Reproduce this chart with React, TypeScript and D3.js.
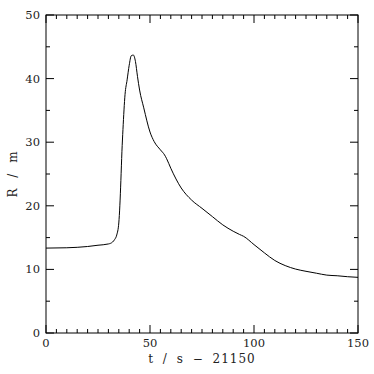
import React from "react";
import * as d3 from "d3";

const timeValues = [0, 10, 20, 25, 30, 32, 33, 34, 35, 35.5, 36, 36.5, 37, 38, 39, 40, 41, 42, 43, 44, 45, 47, 50, 52, 55, 57, 58, 60, 65, 70, 75, 80, 85, 90, 93, 95, 100, 105, 110, 115, 120, 125, 130, 135, 140, 145, 150];
const radiusValues = [13.35, 13.4, 13.6, 13.8, 14.0, 14.3, 14.7, 15.4, 17.3, 20, 24, 28.5, 32, 37.5, 39.8, 42.1, 43.6, 43.7, 42.7, 40.3, 38.2, 35.4, 31.6, 30.1, 28.8, 28.0, 27.4, 25.9, 22.8, 20.9, 19.6, 18.3, 17.0, 16.0, 15.5, 15.2, 13.9, 12.6, 11.4, 10.6, 10.05, 9.7, 9.4, 9.1, 9.0, 8.85, 8.75];
const xMajorTicks = [0, 50, 100, 150];
const yMajorTicks = [0, 10, 20, 30, 40, 50];
const xLabel = "t / s − 21150";
const yLabel = "R / m";

export default function App() {
  const W = 374, H = 374;
  const left = 46, right = 358, top = 15, bottom = 333;
  const x = d3.scaleLinear().domain([0, 150]).range([left, right]);
  const y = d3.scaleLinear().domain([0, 50]).range([bottom, top]);
  const line = d3.line<number>().x((_, i) => x(timeValues[i])).y((d) => y(d)).curve(d3.curveMonotoneX);
  const xMinor = d3.range(0, 151, 5).filter((v) => v % 50 !== 0);
  const yMinor = d3.range(0, 51, 5).filter((v) => v % 10 !== 0);
  const major = 8, minor = 4;
  const font = "'DejaVu Serif', serif";
  return (
    <svg width={W} height={H} style={{ position: "absolute", left: 0, top: 0, background: "#fff" }}>
      <rect x={left} y={top} width={right - left} height={bottom - top} fill="none" stroke="#000" strokeWidth={1} />
      {xMajorTicks.map((v) => (
        <g key={"xm" + v}>
          <line x1={x(v)} x2={x(v)} y1={bottom} y2={bottom - major} stroke="#000" />
          <line x1={x(v)} x2={x(v)} y1={top} y2={top + major} stroke="#000" />
          <text x={x(v)} y={bottom + 14} textAnchor="middle" fontFamily={font} fontSize={11.5} fill="#222">{v}</text>
        </g>
      ))}
      {xMinor.map((v) => (
        <g key={"xn" + v}>
          <line x1={x(v)} x2={x(v)} y1={bottom} y2={bottom - minor} stroke="#000" />
          <line x1={x(v)} x2={x(v)} y1={top} y2={top + minor} stroke="#000" />
        </g>
      ))}
      {yMajorTicks.map((v) => (
        <g key={"ym" + v}>
          <line x1={left} x2={left + major} y1={y(v)} y2={y(v)} stroke="#000" />
          <line x1={right} x2={right - major} y1={y(v)} y2={y(v)} stroke="#000" />
          <text x={left - 6} y={y(v) + 4} textAnchor="end" fontFamily={font} fontSize={11.5} fill="#222">{v}</text>
        </g>
      ))}
      {yMinor.map((v) => (
        <g key={"yn" + v}>
          <line x1={left} x2={left + minor} y1={y(v)} y2={y(v)} stroke="#000" />
          <line x1={right} x2={right - minor} y1={y(v)} y2={y(v)} stroke="#000" />
        </g>
      ))}
      <path d={line(radiusValues) || ""} fill="none" stroke="#000" strokeWidth={1} />
      <text x={(left + right) / 2} y={363} textAnchor="middle" fontFamily={font} fontSize={12} letterSpacing={1} wordSpacing={4} fill="#222">{xLabel}</text>
      <text transform={`translate(17, ${(top + bottom) / 2}) rotate(-90)`} textAnchor="middle" fontFamily={font} fontSize={12} letterSpacing={1} wordSpacing={5} fill="#222">{yLabel}</text>
    </svg>
  );
}
